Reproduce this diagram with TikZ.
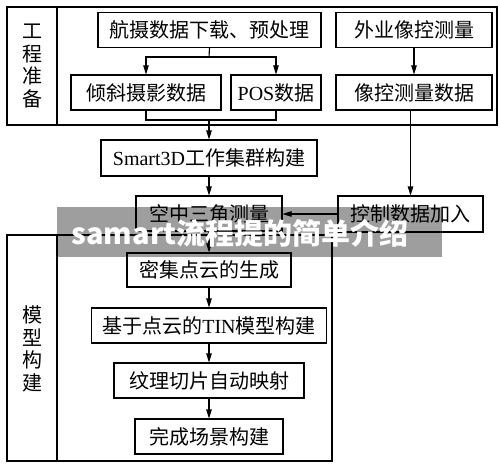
\documentclass[tikz,border=0pt]{standalone}
\usepackage{fontspec}
\setmainfont{Liberation Serif}
\newfontfamily\cjk{Noto Sans CJK SC}
\usetikzlibrary{arrows.meta}
\tikzset{
  box/.style={draw, line width=1.1pt, inner sep=0pt, minimum height=35pt,
    font=\fontsize{20}{22}\selectfont},
  frame/.style={draw, line width=1.1pt},
  side/.style={align=center, font=\cjk\fontsize{20}{22.5}\selectfont},
  >={Triangle[length=9pt,width=5.5pt]}
}

\begin{document}
\begin{tikzpicture}[x=1pt, y=-1pt, line width=1.1pt]
  \useasboundingbox (0,0) rectangle (500,465);

  \draw[frame] (7,7) rectangle (497,125) (57,7) -- (57,125);
  \draw[frame] (7,235) rectangle (332,461) (57,235) -- (57,461);
  \node[side] (gczb) at (32,66) {工\\程\\准\\备};
  \node[side] (mxgj) at (32,349) {模\\型\\构\\建};

  \node[box, minimum width=223pt] (hs)  at (209.5,30) {\cjk 航摄数据下载、预处理};
  \node[box, minimum width=156pt] (wy)  at (414,30)   {\cjk 外业像控测量};
  \node[box, minimum width=150pt] (qx)  at (146,92.5) {\cjk 倾斜摄影数据};
  \node[box, minimum width=90pt]  (pos) at (276,92.5) {POS{\cjk 数据}};
  \node[box, minimum width=156pt] (xk)  at (414,92.5) {\cjk 像控测量数据};
  \node[box, minimum width=216pt, minimum height=36pt] (sm) at (209,158) {Smart3D{\cjk 工作集群构建}};
  \node[box, minimum width=146pt] (ks)  at (209,213.5) {\cjk 空中三角测量};
  \node[box, minimum width=145pt, minimum height=36pt] (kz) at (410.5,214) {\cjk 控制数据加入};
  \node[box, minimum width=164pt, minimum height=34pt] (mj) at (209,270) {\cjk 密集点云的生成};
  \node[box, minimum width=235pt] (tin) at (209,325.5) {{\cjk 基于点云的}TIN{\cjk 模型构建}};
  \node[box, minimum width=190pt] (wl)  at (209,380.5) {\cjk 纹理切片自动映射};
  \node[box, minimum width=148pt] (wc)  at (209,436.5) {\cjk 完成场景构建};

  \coordinate (j1) at (209,57);
  \coordinate (j2) at (209,120);
  \draw (hs.south) -- (j1);
  \draw[->] (j1) -| (qx.north);
  \draw[->] (j1) -| (pos.north);
  \draw (qx.south) |- (j2) -| (pos.south);
  \draw[->] (j2) -- (sm.north);
  \draw[->] (wy) -- (xk);
  \draw[->] (sm) -- (ks);
  \draw[->] (xk.south -| kz.north) -- (kz.north);
  \draw[->] (kz.west) -- (kz.west -| ks.east);
  \draw[->] (ks) -- (mj);
  \draw[->] (mj) -- (tin);
  \draw[->] (tin) -- (wl);
  \draw[->] (wl) -- (wc);

  \fill[black, opacity=0.38] (57,207) rectangle (442,257);
  \node[anchor=west, text=white, inner sep=0pt,
    font=\cjk\bfseries\fontsize{29}{29}\selectfont] (bn) at (71,233) {samart流程提的简单介绍};
\end{tikzpicture}
\end{document}
